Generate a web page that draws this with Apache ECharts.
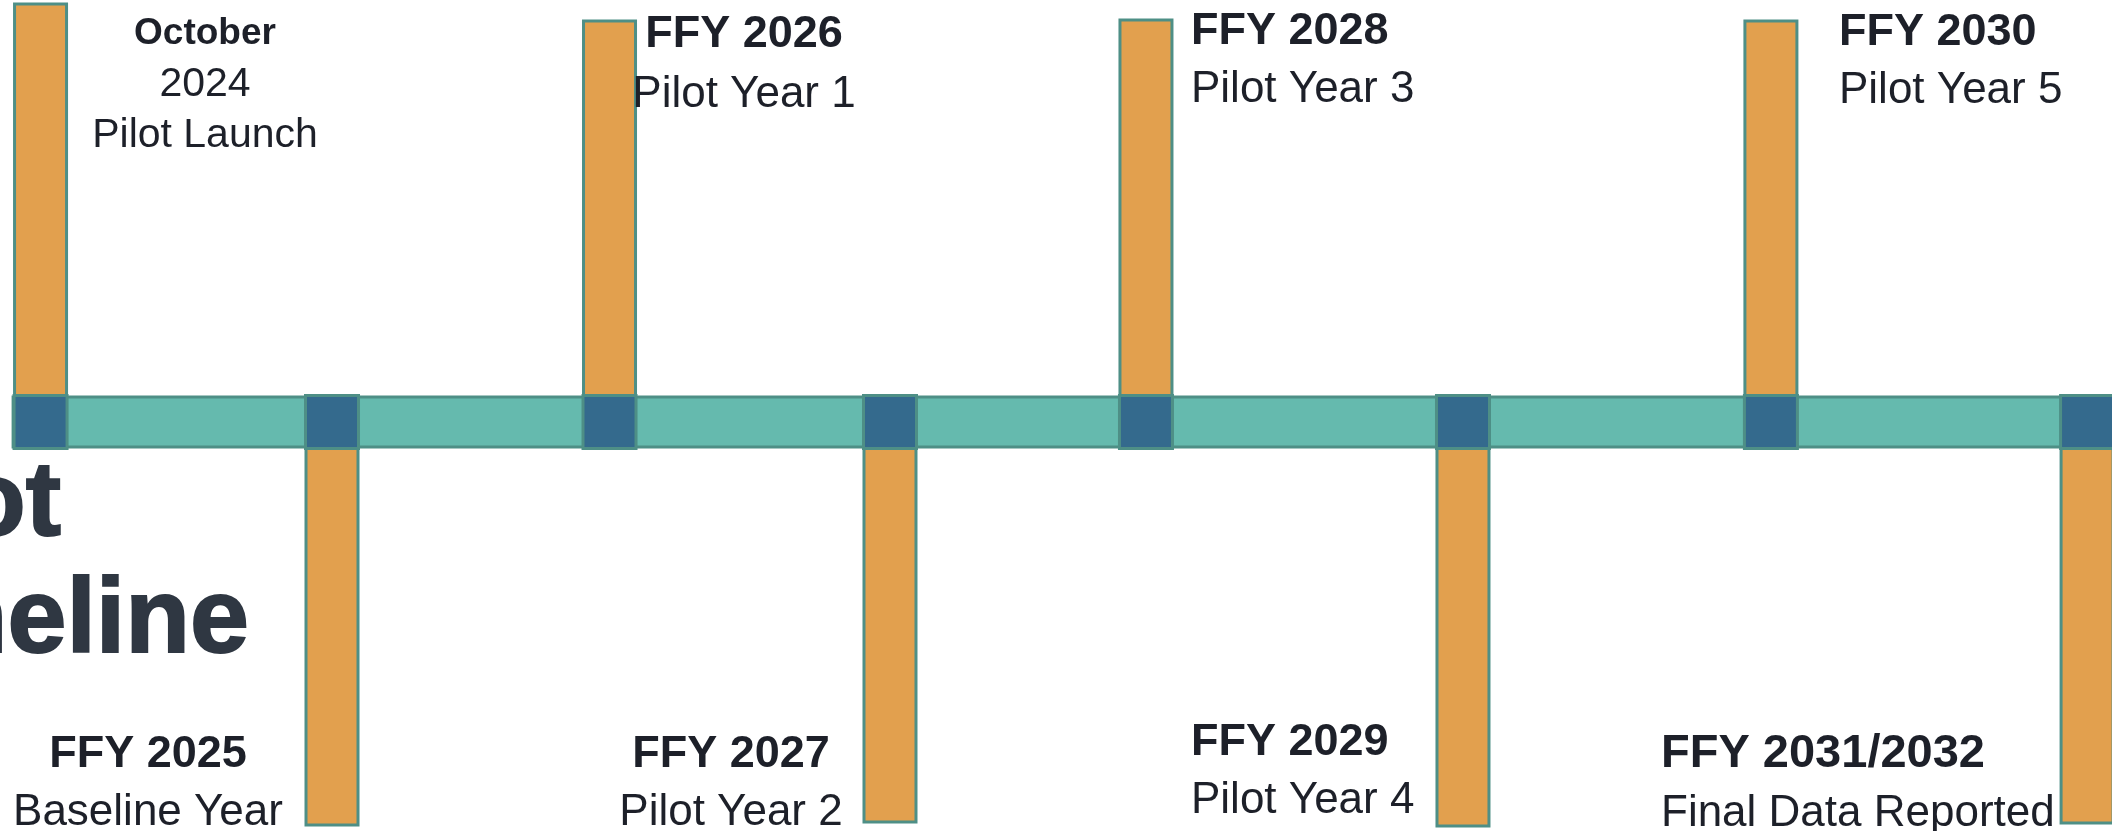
<!DOCTYPE html>
<html>
<head>
<meta charset="utf-8">
<title>Pilot Timeline</title>
<script src="https://cdn.jsdelivr.net/npm/echarts@6/dist/echarts.min.js"></script>
<style>
html, body { margin: 0; padding: 0; background: #fff; }
#timeline-chart { width: 2112px; height: 831px; }
</style>
</head>
<body>
<div id="timeline-chart"></div>
<script>
// milestones, left to right
var headings = ['October', 'FFY 2025', 'FFY 2026', 'FFY 2027', 'FFY 2028', 'FFY 2029', 'FFY 2030', 'FFY 2031/2032'];
var subtitles = ['2024\nPilot Launch', 'Baseline Year', 'Pilot Year 1', 'Pilot Year 2', 'Pilot Year 3', 'Pilot Year 4', 'Pilot Year 5', 'Final Data Reported'];
// where each milestone sits along the band (% of width)
var positions = [1.92, 15.72, 28.86, 42.14, 54.26, 69.27, 83.85, 98.82];
// stem length from the band centre (+ up, - down)
var stemLengths = [418, -403, 401, -400, 402, -404, 401, -401];
// band runs from here to the right edge
var bandRange = [0.62, 100];
var titleLines = ['Pilot', 'Timeline'];

var ORANGE = '#E2A04E', NAVY = '#346A8D', TEAL = '#65BAAE', EDGE = '#4E8F86', INK = '#1D2029';
var FONT = '"Liberation Sans", Arial, sans-serif';

// label blocks: anchor x, top y, alignment, line height, font sizes
var labelLayout = [
    {x: 205, y: 8, align: 'center', lh: 51, hs: 37, ss: 41},
    {x: 148, y: 726, align: 'center', lh: 58, hs: 45, ss: 44},
    {x: 744, y: 5, align: 'center', lh: 60, hs: 45, ss: 44},
    {x: 731, y: 726, align: 'center', lh: 58, hs: 45, ss: 44},
    {x: 1191, y: 3, align: 'left', lh: 58, hs: 45, ss: 44},
    {x: 1191, y: 714, align: 'left', lh: 58, hs: 45, ss: 44},
    {x: 1839, y: 4, align: 'left', lh: 58, hs: 45, ss: 44},
    {x: 1661, y: 725, align: 'left', lh: 59, hs: 47, ss: 44}
];

var milestoneData = positions.map(function (p, i) { return [p, stemLengths[i]]; });

function renderBand(params, api) {
    var a = api.coord([api.value(0), 0]);
    var b = api.coord([api.value(1), 0]);
    return {
        type: 'rect',
        shape: {x: a[0], y: a[1] - 25, width: b[0] - a[0] + 20, height: 50},
        style: {fill: TEAL, stroke: EDGE, lineWidth: 3}
    };
}

function renderStem(params, api) {
    var base = api.coord([api.value(0), 0]);
    var end = api.coord([api.value(0), api.value(1)]);
    var top = Math.min(base[1], end[1]);
    return {
        type: 'rect',
        shape: {x: base[0] - 26, y: top, width: 52, height: Math.abs(end[1] - base[1])},
        style: {fill: ORANGE, stroke: EDGE, lineWidth: 3}
    };
}

function renderNode(params, api) {
    var c = api.coord([api.value(0), 0]);
    return {
        type: 'rect',
        shape: {x: c[0] - 26.5, y: c[1] - 26.5, width: 53, height: 53},
        style: {fill: NAVY, stroke: EDGE, lineWidth: 3}
    };
}

function renderLabel(params, api) {
    var i = params.dataIndex;
    var L = labelLayout[i];
    var lines = ['{h|' + headings[i] + '}'];
    subtitles[i].split('\n').forEach(function (s) { lines.push('{s|' + s + '}'); });
    return {
        type: 'text',
        x: L.x,
        y: L.y,
        style: {
            text: lines.join('\n'),
            align: L.align,
            verticalAlign: 'top',
            rich: {
                h: {fontFamily: FONT, fontWeight: 'bold', fontSize: L.hs, lineHeight: L.lh, fill: INK, align: L.align},
                s: {fontFamily: FONT, fontSize: L.ss, lineHeight: L.lh, fill: INK, align: L.align}
            }
        }
    };
}

var titleStyle = {align: 'right', verticalAlign: 'middle', font: 'bold 106px ' + FONT, fill: '#2F3742', stroke: '#2F3742', lineWidth: 2};

var chart = echarts.init(document.getElementById('timeline-chart'));
chart.setOption({
    animation: false,
    backgroundColor: '#ffffff',
    grid: {left: 0, right: 0, top: 0, bottom: 0},
    xAxis: {type: 'value', min: 0, max: 100, show: false},
    yAxis: {type: 'value', min: -409, max: 422, show: false},
    graphic: [
        {type: 'text', x: 61, y: 506, style: Object.assign({text: titleLines[0]}, titleStyle)},
        {type: 'text', x: 249, y: 623, style: Object.assign({text: titleLines[1]}, titleStyle)}
    ],
    series: [
        {type: 'custom', z: 1, renderItem: renderStem, data: milestoneData},
        {type: 'custom', z: 2, renderItem: renderBand, data: [bandRange]},
        {type: 'custom', z: 3, renderItem: renderNode, data: milestoneData},
        {type: 'custom', z: 4, renderItem: renderLabel, data: milestoneData}
    ]
});
</script>
</body>
</html>
